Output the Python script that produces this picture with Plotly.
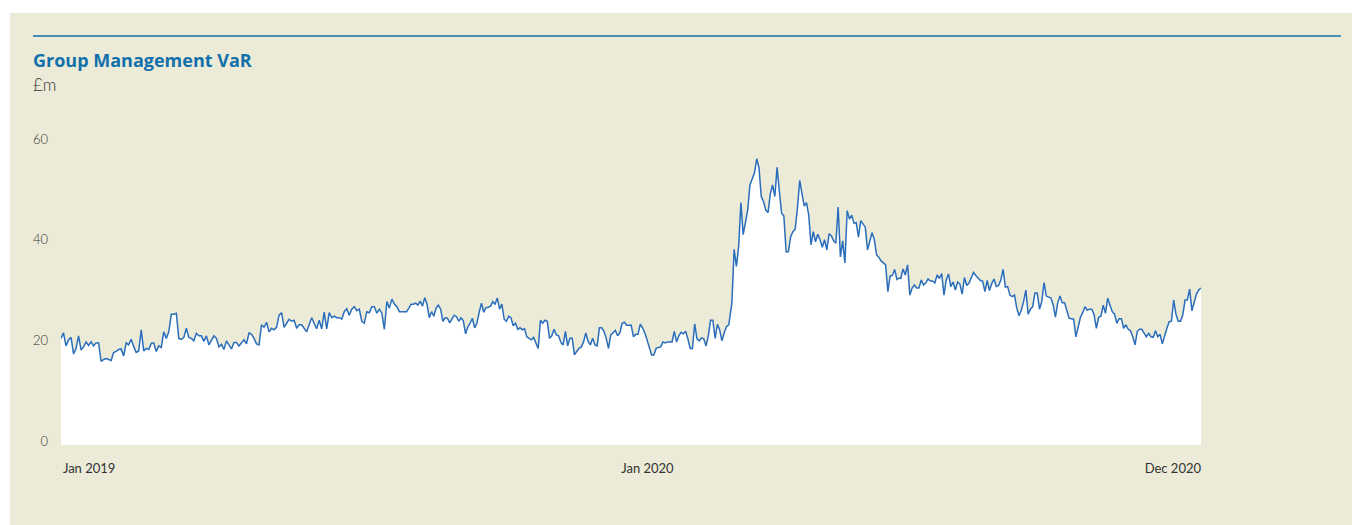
import pandas as pd
import plotly.graph_objects as go

# Daily Group Management VaR (£m), split into four stretches of the series
var_2019_h1 = [
    20.4, 21.5, 18.9, 20.1, 20.6, 17.3, 18.4, 20.9, 18.1, 18.7, 19.7, 19.0, 19.7, 18.9,
    19.5, 19.5, 15.8, 16.2, 16.4, 16.2, 16.0, 17.6, 17.8, 18.2, 18.3, 16.9, 19.5, 19.1,
    20.2, 18.8, 17.6, 17.9, 22.1, 17.9, 18.4, 18.2, 19.4, 19.5, 17.8, 18.9, 18.6, 21.7,
    20.4, 21.7, 25.2, 25.2, 25.4, 20.4, 20.2, 20.6, 22.4, 20.6, 20.4, 19.9, 21.4, 20.9,
    20.9, 19.8, 20.9, 19.1, 20.1, 20.9, 20.4, 18.7, 19.2, 18.2, 19.9, 19.1, 18.3, 19.6,
    19.6, 18.9, 19.5, 20.1, 19.3, 21.5, 21.2, 20.4, 19.3, 19.1, 23.1, 22.6, 23.6, 21.7,
    22.4, 22.1, 22.6, 25.0, 25.5, 22.6, 23.4, 24.2, 23.8, 24.0, 22.4, 23.1, 23.1, 22.4,
    21.7, 23.1, 24.5, 23.4, 22.3, 24.0, 22.3, 25.6, 22.3, 25.5, 24.5, 24.8, 24.5, 24.5,
    24.2, 25.7, 26.3, 25.0, 26.2, 26.7, 25.9, 26.2, 23.8, 23.4, 25.7, 25.5, 26.7, 26.7,
    25.4, 26.2, 25.4, 22.2, 27.7, 26.4, 28.2, 27.2, 26.7, 25.7, 25.7,
]
var_2019_h2 = [
    25.7, 26.4, 27.2, 27.2, 27.4, 27.0, 27.8, 26.8, 28.5, 27.2, 24.5, 25.7, 24.8, 26.4,
    27.0, 26.2, 23.8, 24.5, 24.4, 23.5, 24.2, 25.0, 24.7, 23.8, 24.5, 23.9, 21.3, 22.7,
    23.4, 24.4, 22.5, 23.4, 25.6, 27.4, 25.6, 26.5, 26.6, 26.8, 27.7, 27.2, 28.4, 26.2,
    27.2, 24.2, 23.8, 24.8, 24.5, 22.9, 23.4, 22.2, 22.5, 22.1, 22.3, 20.7, 20.4, 20.1,
    20.6, 19.6, 18.4, 24.0, 23.4, 24.0, 23.8, 20.4, 20.9, 22.2, 21.1, 20.9, 19.6, 19.1,
    21.8, 18.9, 20.4, 20.4, 17.1, 17.8, 18.4, 18.7, 19.7, 21.5, 19.8, 19.1, 20.4, 19.1,
    18.9, 22.5, 22.5, 21.8, 20.4, 18.4, 21.1, 21.5, 22.0, 20.9, 21.5, 23.4, 23.6, 23.0,
    23.0, 23.0, 20.7, 21.2, 21.2, 23.2, 22.5, 21.5, 20.1, 18.4, 17.1, 17.1, 18.4, 18.6,
    18.7, 19.7, 19.5, 19.7, 19.7, 19.7, 21.8, 19.7, 20.9, 21.6, 21.3, 21.8, 20.3, 18.4,
    18.4, 23.3, 20.3, 19.9, 20.5, 20.3, 18.9, 20.9, 24.0, 24.0, 20.4, 23.2, 22.1, 19.9,
    21.5, 22.7, 23.1,
]
var_2020_spring = [
    27.4, 38.1, 34.7, 38.6, 47.4, 41.0, 43.9, 45.9, 50.9, 52.2, 53.3, 56.1, 54.3, 48.6,
    47.6, 45.9, 45.4, 49.1, 50.9, 48.6, 54.4, 49.6, 45.3, 44.7, 37.6, 37.6, 40.6, 41.6,
    42.1, 46.3, 51.8, 49.2, 46.7, 47.4, 44.9, 39.0, 41.6, 39.6, 41.1, 40.0, 38.5, 40.0,
    38.0, 41.2, 40.8, 39.8, 39.3, 46.5, 36.6, 39.8, 35.4, 45.8, 44.1, 44.9, 43.3, 43.4,
    40.5, 43.8, 43.1, 42.5, 38.0, 39.6, 41.4, 40.0, 37.0, 36.5, 35.8, 35.4, 35.0, 29.7,
    32.8, 32.9, 34.1, 32.1, 32.4,
]
var_2020_h2 = [
    32.3, 34.2, 33.0, 35.0, 29.0, 30.4, 31.0, 30.4, 30.4, 32.0, 31.0, 31.4, 32.2, 31.8,
    31.8, 31.4, 33.0, 32.3, 33.3, 29.0, 32.0, 33.2, 30.7, 31.6, 30.0, 31.6, 31.2, 29.2,
    32.5, 30.9, 31.4, 32.6, 33.5, 32.9, 32.4, 31.9, 31.8, 29.7, 31.9, 29.9, 31.3, 32.2,
    30.7, 30.9, 32.0, 34.1, 30.6, 30.7, 29.0, 28.7, 29.0, 26.4, 24.9, 26.0, 27.7, 30.0,
    25.2, 26.2, 26.7, 29.4, 29.4, 26.2, 27.7, 31.5, 28.8, 28.6, 28.4, 27.1, 24.6, 27.4,
    28.8, 27.5, 27.5, 26.0, 24.4, 24.3, 24.2, 20.7, 22.9, 24.6, 25.5, 26.7, 26.0, 26.2,
    26.2, 25.1, 22.4, 24.6, 24.8, 27.0, 25.4, 28.4, 27.0, 25.7, 25.2, 23.4, 24.3, 24.3,
    22.4, 23.1, 22.2, 21.9, 20.7, 19.1, 21.8, 22.2, 22.2, 21.3, 20.7, 21.4, 20.7, 20.6,
    21.9, 20.7, 21.2, 19.3, 21.1, 22.4, 23.7, 23.8, 28.0, 25.2, 23.8, 23.8, 25.1, 28.0,
    28.0, 30.2, 25.9, 27.7, 29.2, 30.0, 30.4,
]

# Date span covered by each stretch
spans = [
    ("2019-01-02", "2019-08-08", var_2019_h1),
    ("2019-08-11", "2020-03-04", var_2019_h2),
    ("2020-03-06", "2020-06-21", var_2020_spring),
    ("2020-06-22", "2020-12-31", var_2020_h2),
]

dates, values = [], []
for start, end, vals in spans:
    dates.extend(pd.date_range(start, end, periods=len(vals)))
    values.extend(vals)

x_tick_dates = ["2019-01-20", "2020-01-12", "2020-12-13"]
x_tick_text = ["Jan 2019", "Jan 2020", "Dec 2020"]
y_ticks = [0, 20, 40, 60]

BEIGE = "#EBEBD8"
BLUE_LINE = "#2A6EBB"
TITLE_BLUE = "#1170AA"

fig = go.Figure()
fig.add_trace(go.Scatter(
    x=dates, y=values, mode="lines",
    line=dict(color=BLUE_LINE, width=1.5),
    fill="tozeroy", fillcolor="white",
    hoverinfo="x+y", showlegend=False,
))

# Page panel, header rule and the white strip below zero
fig.add_shape(type="rect", xref="paper", yref="paper",
              x0=-0.0447, x1=1.1325, y0=-0.2417, y1=1.305,
              fillcolor=BEIGE, line_width=0, layer="below")
fig.add_shape(type="line", xref="paper", yref="paper",
              x0=-0.0246, x1=1.1228, y0=1.2356, y1=1.2356,
              line=dict(color=TITLE_BLUE, width=1.3))
fig.add_shape(type="rect", xref="paper", yref="y",
              x0=0, x1=1, y0=-0.8, y1=0,
              fillcolor="white", line_width=0, layer="below")

fig.add_annotation(text="<b>Group Management VaR</b>", xref="paper", yref="paper",
                   x=-0.0265, y=1.163, xanchor="left", yanchor="middle", showarrow=False,
                   font=dict(family="Open Sans", size=18, color=TITLE_BLUE))
fig.add_annotation(text="£m", xref="paper", yref="paper",
                   x=-0.0265, y=1.09, xanchor="left", yanchor="middle", showarrow=False,
                   font=dict(family="Lato", size=17, weight=300, color="#333333"))

fig.update_layout(
    width=1352, height=525,
    margin=dict(l=61, r=151, t=114, b=80),
    paper_bgcolor="white", plot_bgcolor="rgba(0,0,0,0)",
    font=dict(family="Lato", color="#444444"),
    xaxis=dict(
        range=["2019-01-02", "2020-12-31"],
        tickmode="array", tickvals=x_tick_dates, ticktext=x_tick_text,
        showgrid=False, zeroline=False, showline=False, ticks="",
        tickfont=dict(family="Lato", size=13, color="#333333"),
        ticklabelstandoff=14,
    ),
    yaxis=dict(
        range=[-0.8, 65],
        tickmode="array", tickvals=y_ticks,
        showgrid=False, zeroline=False, showline=False, ticks="",
        tickfont=dict(family="Lato", size=13, weight=300, color="#333333"),
        ticklabelstandoff=12,
    ),
)

fig.write_html("out.html")
